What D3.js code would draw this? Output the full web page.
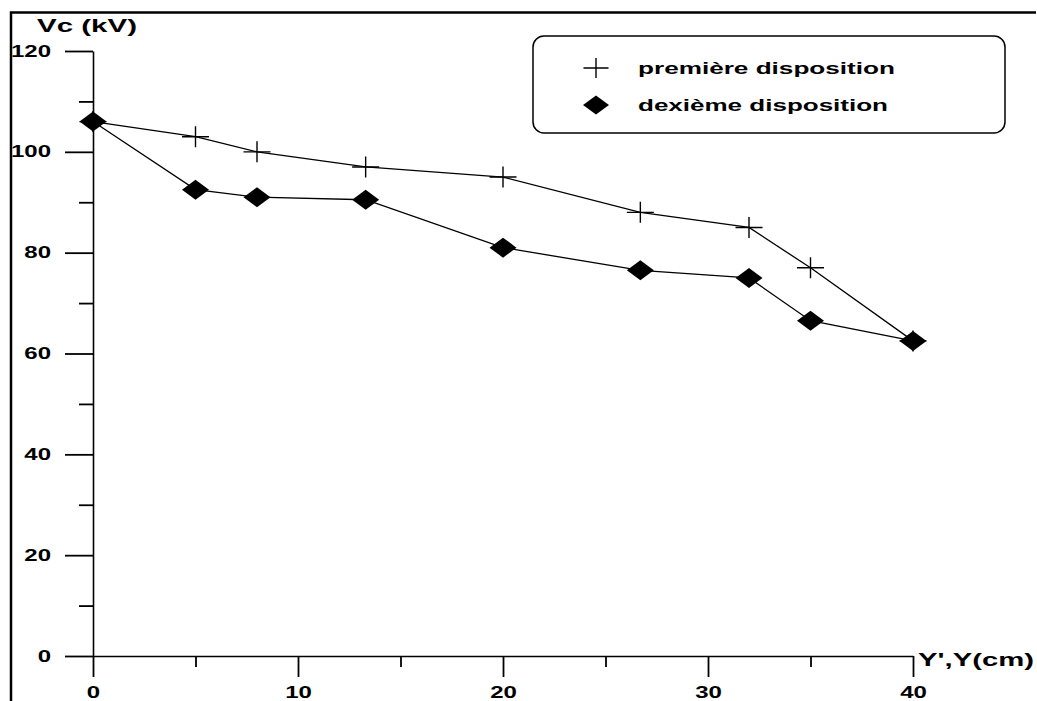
<!DOCTYPE html>
<html>
<head>
<meta charset="utf-8">
<script src="https://cdn.jsdelivr.net/npm/d3@7"></script>
<style>
  html, body { margin: 0; padding: 0; background: #fff; }
  svg { display: block; }
  text { font-family: "Liberation Sans", Arial, sans-serif; font-weight: bold; fill: #000; }
</style>
</head>
<body>
<svg id="chart" width="1037" height="701"></svg>
<script>
// Distance Y', Y (cm)
const positions = [0, 5, 8, 13.3, 20, 26.7, 32, 35, 40];
// Breakdown voltage Vc (kV) for each arrangement
const premiere = [106, 103, 100, 97, 95, 88, 85, 77, 62.5];
const deuxieme = [106, 92.5, 91, 90.5, 81, 76.5, 75, 66.5, 62.5];

const seriesNames = ["première disposition", "dexième disposition"];
const yMajorTicks = [0, 20, 40, 60, 80, 100, 120];
const yMinorTicks = [10, 30, 50, 70, 90, 110];
const xMajorTicks = [0, 10, 20, 30, 40];
const xMinorTicks = [5, 15, 25, 35];
const yTitle = "Vc (kV)";
const xTitle = "Y',Y(cm)";

const svg = d3.select("#chart");
const stretch = "scale(1.5,1)";

const x = d3.scaleLinear().domain([0, 40]).range([93, 913]);
const y = d3.scaleLinear().domain([0, 120]).range([656, 51]);

// Page frame (top and left edges)
svg.append("path")
  .attr("d", "M11,701V12.5H1036")
  .attr("fill", "none").attr("stroke", "#000").attr("stroke-width", 2.5);

// Y axis: major ticks with labels
const yAxisG = svg.append("g").attr("transform", `translate(${x(0)},0)`)
  .call(d3.axisLeft(y).tickValues(yMajorTicks).tickSize(28).tickSizeOuter(0).tickPadding(14));
yAxisG.selectAll(".tick text")
  .attr("x", 0)
  .attr("font-size", 16)
  .attr("transform", "translate(-42,0) " + stretch);
// Y axis: minor ticks
svg.append("g").attr("transform", `translate(${x(0)},0)`)
  .call(d3.axisLeft(y).tickValues(yMinorTicks).tickSize(14).tickSizeOuter(0).tickFormat(""))
  .select(".domain").remove();

// X axis: major ticks with labels
const xAxisG = svg.append("g").attr("transform", `translate(0,${y(0)})`)
  .call(d3.axisBottom(x).tickValues(xMajorTicks).tickSize(21).tickSizeOuter(0).tickPadding(10));
xAxisG.selectAll(".tick text")
  .attr("font-size", 16)
  .attr("transform", stretch);
// X axis: minor ticks
svg.append("g").attr("transform", `translate(0,${y(0)})`)
  .call(d3.axisBottom(x).tickValues(xMinorTicks).tickSize(11).tickSizeOuter(0).tickFormat(""))
  .select(".domain").remove();

svg.selectAll(".domain").attr("stroke", "#000").attr("stroke-width", 1.6);
svg.selectAll(".tick line").attr("stroke", "#000").attr("stroke-width", 1.8);
svg.selectAll(".tick text").attr("font-family", "Liberation Sans, Arial, sans-serif").attr("font-weight", "bold").attr("fill", "#000");

// Axis titles
svg.append("text").attr("x", 37).attr("y", 32)
  .attr("font-size", 19).attr("textLength", 100).attr("lengthAdjust", "spacingAndGlyphs")
  .text(yTitle);
svg.append("text").attr("x", 918).attr("y", 666)
  .attr("font-size", 19).attr("textLength", 116).attr("lengthAdjust", "spacingAndGlyphs")
  .text(xTitle);

// Marker shapes
const crossPath = (cx, cy, w, h) => `M${cx - w},${cy}H${cx + w}M${cx},${cy - h}V${cy + h}`;
const diamondPath = (cx, cy, w, h) => `M${cx},${cy - h}L${cx + w},${cy}L${cx},${cy + h}L${cx - w},${cy}Z`;

const line = d3.line().x(d => x(d[0])).y(d => y(d[1]));
const s1 = positions.map((p, i) => [p, premiere[i]]);
const s2 = positions.map((p, i) => [p, deuxieme[i]]);

svg.append("path").datum(s1).attr("d", line)
  .attr("fill", "none").attr("stroke", "#000").attr("stroke-width", 1.3);
svg.append("path").datum(s2).attr("d", line)
  .attr("fill", "none").attr("stroke", "#000").attr("stroke-width", 1.3);

svg.append("g").selectAll("path").data(s1).join("path")
  .attr("d", d => crossPath(x(d[0]), y(d[1]), 13.5, 10.5))
  .attr("fill", "none").attr("stroke", "#000").attr("stroke-width", 1.4);

svg.append("g").selectAll("path").data(s2).join("path")
  .attr("d", d => diamondPath(x(d[0]), y(d[1]), 13.5, 10))
  .attr("fill", "#000");

// Legend
const legend = svg.append("g");
legend.append("rect")
  .attr("x", 533).attr("y", 36).attr("width", 472).attr("height", 97)
  .attr("rx", 11).attr("ry", 11)
  .attr("fill", "#fff").attr("stroke", "#000").attr("stroke-width", 1.5);
legend.append("path").attr("d", crossPath(596, 68, 12.5, 10))
  .attr("fill", "none").attr("stroke", "#000").attr("stroke-width", 1.4);
legend.append("path").attr("d", diamondPath(596, 105, 13, 9.5)).attr("fill", "#000");
legend.append("text").attr("x", 638).attr("y", 74)
  .attr("font-size", 16).attr("textLength", 257).attr("lengthAdjust", "spacingAndGlyphs")
  .text(seriesNames[0]);
legend.append("text").attr("x", 638).attr("y", 111)
  .attr("font-size", 16).attr("textLength", 250).attr("lengthAdjust", "spacingAndGlyphs")
  .text(seriesNames[1]);
</script>
</body>
</html>
